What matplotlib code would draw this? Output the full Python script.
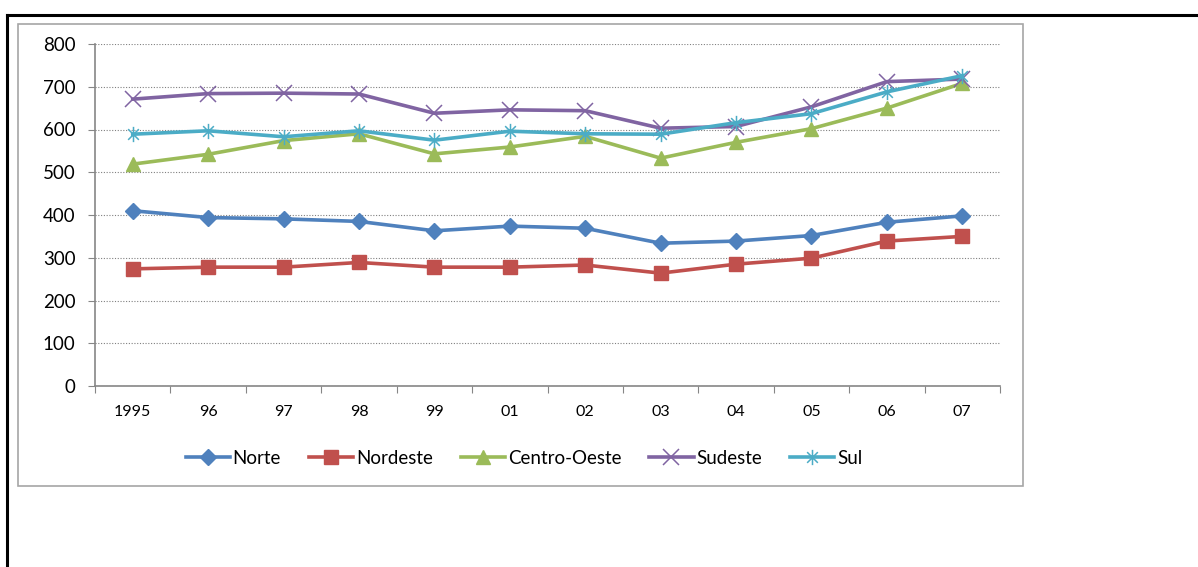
import matplotlib
matplotlib.use("Agg")
import matplotlib.pyplot as plt
from matplotlib.path import Path
from matplotlib.patches import Rectangle
from matplotlib.lines import Line2D

plt.rcParams['font.family'] = ['Lato', 'DejaVu Sans']

# ── Data ──────────────────────────────────────────────────────────────────────
years = ['1995', '96', '97', '98', '99', '01', '02', '03', '04', '05', '06', '07']

norte        = [410, 394, 391, 385, 363, 374, 369, 334, 339, 352, 383, 398]
nordeste     = [274, 278, 278, 289, 278, 278, 283, 264, 285, 299, 339, 350]
centro_oeste = [519, 542, 574, 590, 543, 559, 584, 533, 570, 602, 650, 708]
sudeste      = [671, 684, 685, 683, 638, 646, 644, 603, 607, 653, 712, 718]
sul          = [589, 597, 583, 597, 575, 596, 590, 589, 616, 637, 688, 726]

# Excel-style "star" marker: an x with a vertical bar through it
STAR = Path([(0, -1), (0, 1), (-0.7, -0.7), (0.7, 0.7), (-0.7, 0.7), (0.7, -0.7)],
            [Path.MOVETO, Path.LINETO, Path.MOVETO, Path.LINETO,
             Path.MOVETO, Path.LINETO])

SERIES = [
    ('Norte',        norte,        '#4F81BD', 'D',  8,    None),
    ('Nordeste',     nordeste,     '#C0504D', 's',  9.5,  None),
    ('Centro-Oeste', centro_oeste, '#9BBB59', '^',  10.5, None),
    ('Sudeste',      sudeste,      '#8064A2', 'x',  11,   1.1),
    ('Sul',          sul,          '#4BACC6', STAR, 11,   1.1),
]

W, H = 1198, 567
fig = plt.figure(figsize=(W / 100, H / 100), dpi=100)

# ── Frames ────────────────────────────────────────────────────────────────────
def fx(px):
    return px / W

def fy(py):
    return 1 - py / H

fig.add_artist(Line2D([fx(7), fx(1198)], [fy(15), fy(15)], color='black', lw=2.2))
fig.add_artist(Line2D([fx(7), fx(7)], [fy(15), fy(567)], color='black', lw=2.2))
fig.add_artist(Rectangle((fx(18), fy(486)), fx(1023) - fx(18), fy(24) - fy(486),
                         transform=fig.transFigure, fill=False,
                         edgecolor='#A6A6A6', lw=1.2))

# ── Plot area ─────────────────────────────────────────────────────────────────
ax = fig.add_axes([fx(95), fy(386), fx(1000) - fx(95), fy(44) - fy(386)])

x = range(len(years))
for name, vals, colour, marker, ms, mew in SERIES:
    kw = dict(color=colour, lw=2.6, marker=marker, markersize=ms, label=name,
              solid_joinstyle='round')
    if mew is not None:
        kw['markeredgewidth'] = mew
    ax.plot(x, vals, **kw)

ax.set_xlim(-0.5, len(years) - 0.5)
ax.set_ylim(0, 800)
ax.set_yticks(range(0, 801, 100))
ax.tick_params(axis='y', labelsize=13.5, length=5, color='#868686', pad=9)

# category boundaries get the tick marks, category centres get the labels
ax.set_xticks([i - 0.5 for i in range(len(years) + 1)], minor=False)
ax.set_xticklabels([])
ax.set_xticks(list(x), minor=True)
ax.set_xticklabels(years, minor=True)
ax.tick_params(axis='x', which='major', length=5, color='#868686')
ax.tick_params(axis='x', which='minor', length=0, labelsize=11.5, pad=14)

ax.grid(axis='y', color='#808080', linestyle=(0, (1, 1.5)), linewidth=0.8)
ax.set_axisbelow(True)
for side in ('top', 'right'):
    ax.spines[side].set_visible(False)
for side in ('left', 'bottom'):
    ax.spines[side].set_color('#868686')
    ax.spines[side].set_linewidth(1.2)

fig.legend(loc='center', bbox_to_anchor=(fx(524), fy(458)), ncol=5,
           frameon=False, fontsize=13.5, handlelength=2.35, handletextpad=0.15,
           columnspacing=1.5)

fig.savefig('out.png', dpi=100)
